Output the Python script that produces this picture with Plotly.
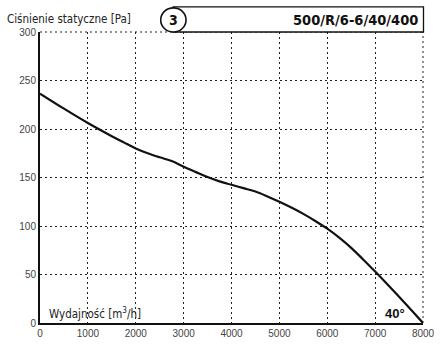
import plotly.graph_objects as go

flow = [0, 500, 1000, 1500, 1750, 2000, 2250, 2500, 2750, 3000, 3250, 3500, 3750, 4000, 4250, 4500, 4750, 5000,
        5250, 5500, 5750, 6000, 6250, 6500, 6750, 7000, 7250, 7500, 7750, 8000]
pressure = [236.5, 221, 206.2, 192.6, 186.2, 180, 175, 170.8, 167, 161.2, 155.8, 150.5, 146, 142.5, 139, 135.5, 130.5, 125,
            119, 112.5, 105.2, 97.2, 88, 77.5, 65.5, 53, 40.2, 27, 13.6, 0]
x_ticks = [0, 1000, 2000, 3000, 4000, 5000, 6000, 7000, 8000]
y_ticks = [0, 50, 100, 150, 200, 250, 300]

W, H = 447, 351
L, R, T, B = 40, 21.5, 32, 17
pw, ph = W - L - R, H - T - B

def px(x):
    return (x - L) / pw

def py(y):
    return (H - B - y) / ph

fig = go.Figure()
fig.add_trace(go.Scatter(x=flow, y=pressure, mode="lines",
                         line=dict(color="#111", width=2.2, shape="spline", smoothing=1.0), hoverinfo="skip"))

tickfont = dict(family="Liberation Sans, Arial", size=10, color="#444")
grid_dash = "2px,3px"
fig.update_xaxes(range=[0, 8000], tickvals=x_ticks, showgrid=True, gridcolor="#222", griddash=grid_dash, gridwidth=1,
                 showline=True, linecolor="#111", linewidth=2, zeroline=False, ticks="", tickfont=tickfont, fixedrange=True)
fig.update_yaxes(range=[0, 300], tickvals=y_ticks, showgrid=True, gridcolor="#222", griddash=grid_dash, gridwidth=1,
                 showline=True, linecolor="#111", linewidth=2, zeroline=False, ticks="", tickfont=tickfont, fixedrange=True)

shapes = [
    dict(type="rect", xref="paper", yref="paper", x0=px(174), x1=px(426), y0=py(32), y1=py(6),
         line=dict(color="#111", width=1.3), fillcolor="white"),
    dict(type="circle", xref="paper", yref="paper", x0=px(161.5), x1=px(187), y0=py(32), y1=py(7),
         line=dict(color="#111", width=1.6), fillcolor="white"),
    dict(type="line", xref="paper", yref="paper", x0=0, x1=1, y0=1, y1=1,
         line=dict(color="#222", width=1, dash=grid_dash), layer="below"),
    dict(type="line", xref="paper", yref="paper", x0=1, x1=1, y0=0, y1=1,
         line=dict(color="#222", width=1, dash=grid_dash), layer="below"),
]

annotations = [
    dict(text="Ciśnienie statyczne [Pa]", xref="paper", yref="paper", x=px(5), y=py(19), xanchor="left", yanchor="middle",
         showarrow=False, font=dict(family="DejaVu Sans Condensed, Liberation Sans", size=11.5, color="#222")),
    dict(text="<b>3</b>", xref="paper", yref="paper", x=px(174.3), y=py(19.5), xanchor="center", yanchor="middle",
         showarrow=False, font=dict(family="DejaVu Sans Condensed, Liberation Sans", size=14, color="#111")),
    dict(text="<b>500/R/6-6/40/400</b>", xref="paper", yref="paper", x=px(422), y=py(19.5), xanchor="right", yanchor="middle",
         showarrow=False, font=dict(family="DejaVu Sans Condensed, Liberation Sans", size=14.5, color="#111")),
    dict(text="Wydajność [m<sup>3</sup>/h]", xref="paper", yref="paper", x=px(47), y=py(324), xanchor="left", yanchor="middle",
         showarrow=False, font=dict(family="DejaVu Sans Condensed, Liberation Sans", size=11.5, color="#222")),
    dict(text="<b>40°</b>", xref="paper", yref="paper", x=px(385), y=py(324), xanchor="left", yanchor="middle",
         showarrow=False, font=dict(family="Liberation Sans, Arial", size=13, color="#111")),
]

fig.update_layout(width=W, height=H, margin=dict(l=L, r=R, t=T, b=B), plot_bgcolor="white", paper_bgcolor="white",
                  showlegend=False, shapes=shapes, annotations=annotations)
fig.write_html("out.html")
